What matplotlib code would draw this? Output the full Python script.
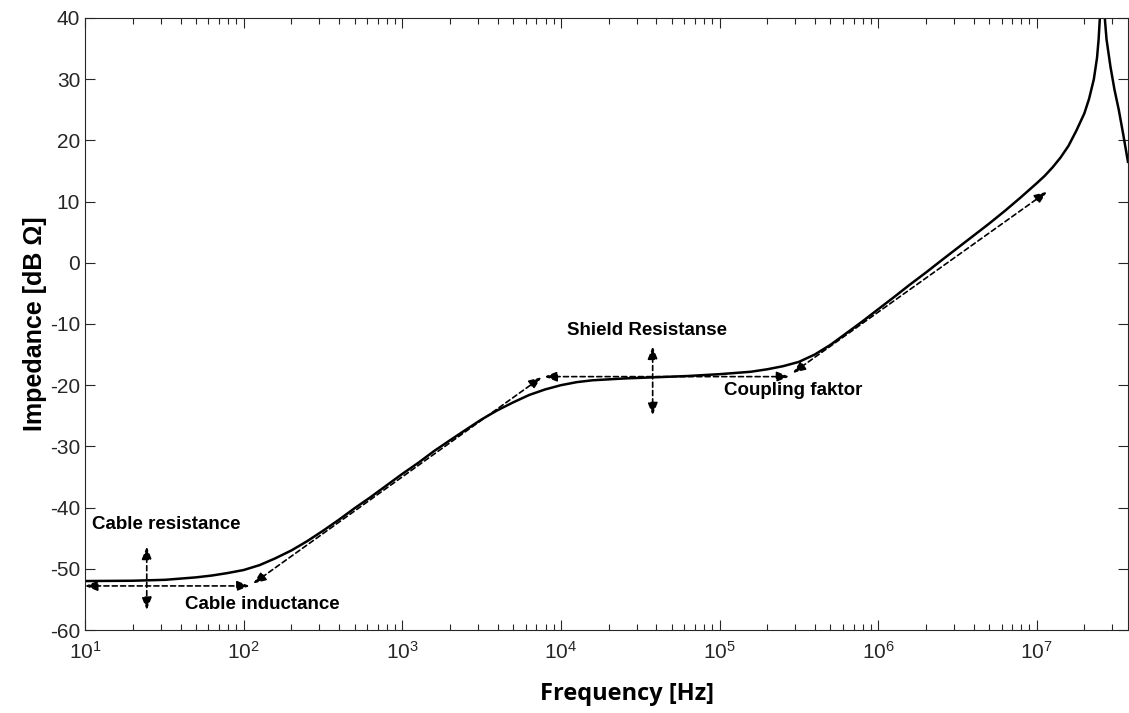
import matplotlib
matplotlib.use('Agg')
import matplotlib.pyplot as plt
from matplotlib.ticker import LogLocator, NullFormatter, LogFormatterMathtext

plt.rcParams['font.family'] = ['Liberation Sans', 'DejaVu Sans']
plt.rcParams['mathtext.fontset'] = 'custom'
plt.rcParams['mathtext.rm'] = 'Liberation Sans'
plt.rcParams['mathtext.it'] = 'Liberation Sans:italic'
plt.rcParams['axes.unicode_minus'] = False

# impedance curve
freq_hz = [10, 20, 32, 50, 63, 79, 100, 126, 158, 200, 251, 316, 398, 501, 631, 794,
           1.0e3, 1.26e3, 1.58e3, 2.0e3, 2.51e3, 3.16e3, 3.98e3, 5.01e3, 6.31e3, 7.94e3,
           1.0e4, 1.26e4, 1.58e4, 2.51e4, 3.98e4, 6.31e4,
           1.0e5, 1.26e5, 1.58e5, 2.0e5, 2.51e5, 3.16e5, 3.98e5, 5.01e5, 6.31e5, 7.94e5,
           1.0e6, 1.26e6, 1.58e6, 2.0e6, 2.51e6, 3.16e6, 3.98e6, 5.01e6, 6.31e6, 7.94e6,
           1.0e7, 1.122e7, 1.259e7, 1.413e7, 1.585e7, 1.778e7, 1.995e7, 2.138e7, 2.291e7,
           2.399e7, 2.455e7, 2.500e7, 2.541e7, 2.582e7, 2.630e7, 2.685e7, 2.754e7,
           2.917e7, 3.090e7, 3.289e7, 3.508e7, 3.758e7]
impedance_db = [-52.0, -51.95, -51.8, -51.4, -51.1, -50.7, -50.2, -49.4, -48.3, -47.0, -45.5, -43.8, -42.0, -40.1, -38.3, -36.4,
                -34.5, -32.7, -30.8, -29.0, -27.3, -25.6, -24.1, -22.8, -21.6, -20.7,
                -20.0, -19.5, -19.2, -18.9, -18.7, -18.5,
                -18.2, -18.0, -17.8, -17.4, -16.9, -16.2, -15.0, -13.4, -11.5, -9.6,
                -7.6, -5.6, -3.6, -1.6, 0.4, 2.4, 4.4, 6.4, 8.5, 10.7,
                13.0, 14.2, 15.6, 17.2, 19.1, 21.6, 24.4, 26.8, 30.0,
                33.5, 36.5, 40.0, 47.0, 60.0, 47.0, 40.0, 36.5,
                32.0, 28.3, 25.0, 21.0, 16.5]

x_ticks = [1e1, 1e2, 1e3, 1e4, 1e5, 1e6, 1e7]
y_ticks = [-60, -50, -40, -30, -20, -10, 0, 10, 20, 30, 40]

# dashed double arrows, start/end in Hz / dB
arrow_h_lo = [(10, -52.8), (109, -52.8)]
arrow_v_lo = [(24.5, -46.4), (24.5, -56.7)]
arrow_diag_lo = [(115, -52.4), (7550, -18.7)]
arrow_h_mid = [(7890, -18.6), (2.75e5, -18.6)]
arrow_v_mid = [(3.79e4, -13.7), (3.79e4, -24.9)]
arrow_diag_hi = [(2.9e5, -18.0), (1.16e7, 11.6)]

labels = ['Cable resistance', 'Cable inductance', 'Shield Resistanse', 'Coupling faktor']
label_pos = [(11.1, -42.7), (42.7, -55.9), (3.5e4, -11.1), (1.07e5, -20.8)]
label_ha = ['left', 'left', 'center', 'left']

fig = plt.figure(figsize=(11.29, 7.13), dpi=100)
ax = fig.add_axes([0.0753, 0.1164, 0.9238, 0.8584])

ax.plot(freq_hz, impedance_db, color='black', lw=1.8)

for a in [arrow_h_lo, arrow_v_lo, arrow_diag_lo, arrow_h_mid, arrow_v_mid, arrow_diag_hi]:
    ax.annotate('', xy=a[1], xytext=a[0],
                arrowprops=dict(arrowstyle='<|-|>,head_length=0.75,head_width=0.3',
                                linestyle=(0, (3, 2)), lw=1.2, color='black',
                                shrinkA=0, shrinkB=0))

for txt, pos, ha in zip(labels, label_pos, label_ha):
    ax.text(pos[0], pos[1], txt, ha=ha, va='center', fontsize=13.5, fontweight='bold')

ax.set_xscale('log')
ax.set_xlim(10, 3.76e7)
ax.set_ylim(-60, 40)
ax.set_yticks(y_ticks)
ax.set_xticks(x_ticks)
ax.xaxis.set_minor_locator(LogLocator(base=10, subs=range(2, 10), numticks=12))
ax.xaxis.set_minor_formatter(NullFormatter())
ax.xaxis.set_major_formatter(LogFormatterMathtext())

ax.tick_params(axis='both', which='both', direction='in', top=True, right=True,
               colors='#262626', labelsize=15, width=0.8)
ax.tick_params(axis='both', which='major', length=7)
ax.tick_params(axis='x', which='minor', length=4)
ax.tick_params(axis='x', which='major', pad=8)
for s in ax.spines.values():
    s.set_color('#262626')
    s.set_linewidth(0.8)

ax.set_xlabel('Frequency [Hz]', fontsize=17, fontweight='bold', family='Open Sans', labelpad=14)
ax.xaxis.label.set_x(0.52)
ax.set_ylabel('Impedance [dB Ω]', fontsize=18, fontweight='bold', labelpad=2)

fig.savefig('out.png', dpi=100)
